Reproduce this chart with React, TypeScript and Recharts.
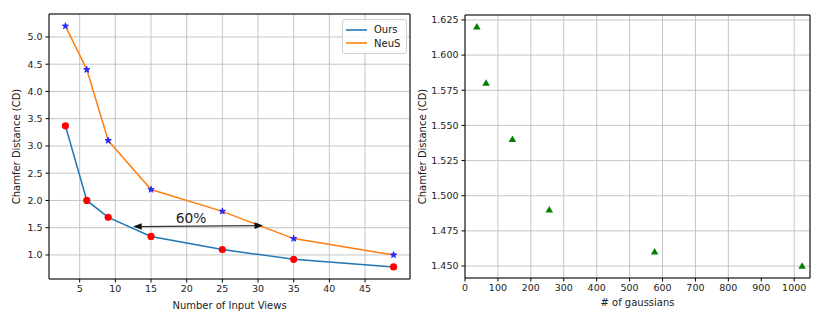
import React from 'react';
import {
  ComposedChart, Line, Scatter, XAxis, YAxis, CartesianGrid, Legend,
  ReferenceArea, ReferenceLine, ReferenceDot,
} from 'recharts';

// ---- data: left panel ----
const views = [3, 6, 9, 15, 25, 35, 49];
const oursCD = [3.37, 2.0, 1.69, 1.34, 1.1, 0.92, 0.78];
const neusCD = [5.2, 4.4, 3.1, 2.2, 1.8, 1.3, 1.0];
const seriesNames = ['Ours', 'NeuS'];
const viewTicks = [5, 10, 15, 20, 25, 30, 35, 40, 45];
const cdTicks = [1.0, 1.5, 2.0, 2.5, 3.0, 3.5, 4.0, 4.5, 5.0];
const arrowFrom = { x: 12.5, y: 1.52 };
const arrowTo = { x: 30.7, y: 1.54 };
const arrowText = { x: 20.6, y: 1.67, label: '60%' };

// ---- data: right panel ----
const gaussians = [36, 64, 144, 256, 576, 1024];
const gaussianCD = [1.62, 1.58, 1.54, 1.49, 1.46, 1.45];
const gaussTicks = [0, 100, 200, 300, 400, 500, 600, 700, 800, 900, 1000];
const gaussCDTicks = [1.45, 1.475, 1.5, 1.525, 1.55, 1.575, 1.6, 1.625];

const leftData = views.map((v, i) => ({ views: v, ours: oursCD[i], neus: neusCD[i] }));
const rightData = gaussians.map((g, i) => ({ g, cd: gaussianCD[i] }));

const COLORS = ['#1f77b4', '#ff7f0e'];
const LX: [number, number] = [0.7, 51.3];
const LY: [number, number] = [0.559, 5.421];
const RX: [number, number] = [0, 1048];
const RY: [number, number] = [1.4415, 1.6285];

const FONT = 'DejaVu Sans, sans-serif';
const tickStyle = { fill: '#222', fontSize: 9.5, fontFamily: FONT };
const labelStyle = { textAnchor: 'middle' as const, fontSize: 10, fill: '#222', fontFamily: FONT };

const RedDot = (p: any) => <circle cx={p.cx} cy={p.cy} r={3.6} fill="#ff0000" />;

const BlueStar = (p: any) => {
  const R = 3.4, r = 1.4;
  const pts: string[] = [];
  for (let i = 0; i < 10; i++) {
    const a = -Math.PI / 2 + (i * Math.PI) / 5;
    const rad = i % 2 === 0 ? R : r;
    pts.push(`${p.cx + rad * Math.cos(a)},${p.cy + rad * Math.sin(a)}`);
  }
  return <polygon points={pts.join(' ')} fill="#3030ff" stroke="#0000ff" strokeWidth={0.6} />;
};

const GreenTri = (p: any) => {
  const h = 6.5, w = 7.5;
  return (
    <polygon
      points={`${p.cx},${p.cy - h * 0.6} ${p.cx - w / 2},${p.cy + h * 0.4} ${p.cx + w / 2},${p.cy + h * 0.4}`}
      fill="#008000"
    />
  );
};

const Arrow = (p: any) => {
  const { x1, y1, x2, y2 } = p;
  const dx = x2 - x1, dy = y2 - y1;
  const len = Math.sqrt(dx * dx + dy * dy);
  const ux = dx / len, uy = dy / len;
  const nx = -uy, ny = ux;
  const L = 8.5, W = 3.3;
  const head = (tx: number, ty: number, dir: number) => {
    const bx = tx - dir * ux * L, by = ty - dir * uy * L;
    return `${tx},${ty} ${bx + nx * W},${by + ny * W} ${bx - nx * W},${by - ny * W}`;
  };
  return (
    <g>
      <line x1={x1 + ux * 4} y1={y1 + uy * 4} x2={x2 - ux * 4} y2={y2 - uy * 4} stroke="#333" strokeWidth={1.2} />
      <polygon points={head(x1, y1, -1)} fill="#111" />
      <polygon points={head(x2, y2, 1)} fill="#111" />
    </g>
  );
};

const LegendBox = () => (
  <div
    style={{
      border: '1px solid #d0d0d0', borderRadius: 3, background: 'rgba(255,255,255,0.85)',
      padding: '3px 6px 3px 3px', fontFamily: FONT, fontSize: 10, color: '#222',
    }}
  >
    {seriesNames.map((name, i) => (
      <div key={name} style={{ display: 'flex', alignItems: 'center', height: 13.4 }}>
        <svg width={21} height={4} style={{ marginRight: 7, display: 'block' }}>
          <line x1={0} y1={2} x2={21} y2={2} stroke={COLORS[i]} strokeWidth={1.6} />
        </svg>
        <span>{name}</span>
      </div>
    ))}
  </div>
);

const TextMark = (p: any) => (
  <text x={p.cx} y={p.cy} textAnchor="middle" dominantBaseline="central" fontSize={13.8} fontFamily={FONT} fill="#222">
    {arrowText.label}
  </text>
);

export default function App() {
  return (
    <div style={{ position: 'absolute', left: 0, top: 0, width: 831, height: 325, background: '#fff' }}>
      <div style={{ position: 'absolute', left: 0, top: 0 }}>
        <ComposedChart width={415} height={325} data={leftData} margin={{ top: 14, right: 5, bottom: 16, left: 0 }}>
          <CartesianGrid stroke="#c0c0c0" strokeWidth={0.9} />
          <XAxis
            type="number" dataKey="views" domain={LX} ticks={viewTicks} allowDataOverflow
            tick={tickStyle} tickLine={{ stroke: '#000' }} tickSize={3.5} tickMargin={3} axisLine={false}
            height={30}
            label={{ value: 'Number of Input Views', position: 'insideBottom', offset: 0, style: labelStyle }}
          />
          <YAxis
            type="number" domain={LY} ticks={cdTicks} allowDataOverflow width={49}
            tickFormatter={(v: number) => v.toFixed(1)}
            tick={tickStyle} tickLine={{ stroke: '#000' }} tickSize={3.5} tickMargin={3} axisLine={false}
            label={{ value: 'Chamfer Distance (CD)', angle: -90, position: 'insideLeft', offset: 16, style: labelStyle }}
          />
          <Scatter dataKey="ours" shape={RedDot} isAnimationActive={false} legendType="none" />
          <Scatter dataKey="neus" shape={BlueStar} isAnimationActive={false} legendType="none" />
          <Line dataKey="ours" name={seriesNames[0]} stroke={COLORS[0]} strokeWidth={1.5} dot={false} activeDot={false} isAnimationActive={false} />
          <Line dataKey="neus" name={seriesNames[1]} stroke={COLORS[1]} strokeWidth={1.5} dot={false} activeDot={false} isAnimationActive={false} />
          <ReferenceLine segment={[arrowFrom, arrowTo]} shape={Arrow} ifOverflow="visible" />
          <ReferenceDot x={arrowText.x} y={arrowText.y} r={0} shape={TextMark} ifOverflow="visible" />
          <ReferenceArea x1={LX[0]} x2={LX[1]} y1={LY[0]} y2={LY[1]} fill="none" stroke="#000" strokeWidth={1} ifOverflow="visible" />
          <Legend
            layout="vertical" align="center" verticalAlign="middle"
            content={LegendBox}
            wrapperStyle={{ left: 342, top: 19, width: 'auto', height: 'auto' }}
          />
        </ComposedChart>
      </div>
      <div style={{ position: 'absolute', left: 415, top: 0 }}>
        <ComposedChart width={416} height={325} data={rightData} margin={{ top: 15, right: 21, bottom: 17, left: 0 }}>
          <CartesianGrid stroke="#c0c0c0" strokeWidth={0.9} />
          <XAxis
            type="number" dataKey="g" domain={RX} ticks={gaussTicks} allowDataOverflow
            tick={tickStyle} tickLine={{ stroke: '#000' }} tickSize={3.5} tickMargin={3} axisLine={false}
            height={30}
            label={{ value: '# of gaussians', position: 'insideBottom', offset: 2, style: labelStyle }}
          />
          <YAxis
            type="number" domain={RY} ticks={gaussCDTicks} allowDataOverflow width={50}
            tickFormatter={(v: number) => v.toFixed(3)}
            tick={tickStyle} tickLine={{ stroke: '#000' }} tickSize={3.5} tickMargin={3} axisLine={false}
            label={{ value: 'Chamfer Distance (CD)', angle: -90, position: 'insideLeft', offset: 7, style: labelStyle }}
          />
          <Scatter dataKey="cd" shape={GreenTri} isAnimationActive={false} legendType="none" />
          <ReferenceArea x1={RX[0]} x2={RX[1]} y1={RY[0]} y2={RY[1]} fill="none" stroke="#000" strokeWidth={1} ifOverflow="visible" />
        </ComposedChart>
      </div>
    </div>
  );
}
